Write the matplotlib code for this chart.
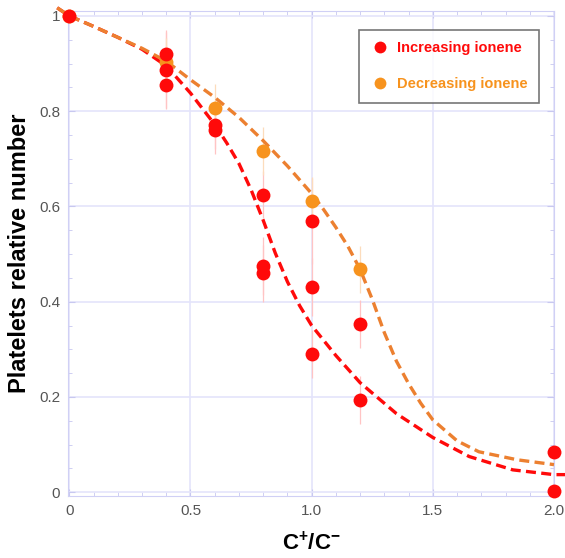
import numpy as np
import matplotlib.pyplot as plt
from matplotlib.ticker import MultipleLocator

plt.rcParams['font.family'] = ['Liberation Sans', 'DejaVu Sans']
plt.rcParams['mathtext.fontset'] = 'custom'
plt.rcParams['mathtext.rm'] = 'Liberation Sans:bold'
plt.rcParams['mathtext.default'] = 'rm'

# measured points
inc_x = [0.0, 0.4, 0.4, 0.4, 0.6, 0.6, 0.8, 0.8, 0.8, 1.0, 1.0, 1.0, 1.2, 1.2, 2.0, 2.0]
inc_y = [1.0, 0.92, 0.887, 0.855, 0.770, 0.761, 0.625, 0.475, 0.460, 0.570, 0.431, 0.290, 0.353, 0.194, 0.085, 0.002]
inc_err = [0.0, 0.05, 0.08, 0.05, 0.05, 0.05, 0.05, 0.06, 0.06, 0.09, 0.06, 0.05, 0.05, 0.05, 0.0, 0.0]

dec_x = [0.0, 0.4, 0.6, 0.8, 1.0, 1.2]
dec_y = [1.0, 0.904, 0.807, 0.716, 0.611, 0.468]
dec_err = [0.0, 0.05, 0.05, 0.05, 0.05, 0.05]

# fit curves
fit_inc_x = [-0.05, 0.0, 0.1, 0.2, 0.3, 0.4, 0.5, 0.6, 0.65, 0.7, 0.75, 0.8, 0.85, 0.9, 0.95,
             1.0, 1.1, 1.2, 1.35, 1.5, 1.65, 1.83, 2.0, 2.05]
fit_inc_y = [1.017, 1.0, 0.978, 0.955, 0.93, 0.895, 0.838, 0.772, 0.733, 0.69, 0.635, 0.571, 0.502,
             0.442, 0.392, 0.35, 0.287, 0.23, 0.165, 0.115, 0.075, 0.047, 0.037, 0.037]
fit_dec_x = [-0.05, 0.0, 0.1, 0.2, 0.3, 0.4, 0.5, 0.6, 0.7, 0.8, 0.9, 1.0, 1.05, 1.1, 1.15, 1.2,
             1.25, 1.3, 1.35, 1.4, 1.45, 1.5, 1.6, 1.69, 1.85, 2.0]
fit_dec_y = [1.017, 1.0, 0.978, 0.955, 0.932, 0.905, 0.866, 0.829, 0.787, 0.738, 0.685, 0.627, 0.593,
             0.556, 0.516, 0.468, 0.405, 0.335, 0.275, 0.228, 0.187, 0.152, 0.108, 0.085, 0.068, 0.058]

x_ticks = [0, 0.5, 1.0, 1.5, 2.0]
x_labels = ['0', '0.5', '1.0', '1.5', '2.0']
y_ticks = [0, 0.2, 0.4, 0.6, 0.8, 1.0]
y_labels = ['0', '0.2', '0.4', '0.6', '0.8', '1']

red = '#ff0a0a'
orange = '#f7931e'
grid_c = '#e4e4fb'

fig = plt.figure(figsize=(5.65, 5.58), dpi=100)
ax = fig.add_axes([0.121, 0.111, 0.8595, 0.869])

ax.plot(fit_inc_x, fit_inc_y, '--', color=red, lw=2.4, dashes=(3, 1.6), clip_on=False, zorder=3)
ax.plot(fit_dec_x, fit_dec_y, '--', color='#ec8030', lw=2.4, dashes=(3, 1.6), clip_on=False, zorder=3)

ax.errorbar(inc_x, inc_y, yerr=inc_err, fmt='none', ecolor='#ffc4c4', elinewidth=0.9, zorder=2)
ax.errorbar(dec_x, dec_y, yerr=dec_err, fmt='none', ecolor='#fcdcbc', elinewidth=0.9, zorder=2)
ax.plot(dec_x, dec_y, 'o', color=orange, ms=10, mec='none', clip_on=False, zorder=4,
        label='Decreasing ionene')
ax.plot(inc_x, inc_y, 'o', color=red, ms=10, mec='none', clip_on=False, zorder=5,
        label='Increasing ionene')

ax.set_xlim(-0.004, 2.0)
ax.set_ylim(-0.008, 1.01)
ax.set_xticks(x_ticks)
ax.set_xticklabels(x_labels)
ax.set_yticks(y_ticks)
ax.set_yticklabels(y_labels)
ax.xaxis.set_minor_locator(MultipleLocator(0.1))
ax.yaxis.set_minor_locator(MultipleLocator(0.05))
ax.grid(True, color=grid_c, lw=1.2)
ax.set_axisbelow(True)
ax.tick_params(which='both', direction='in', color='#c8c8f0', top=True, right=True)
ax.tick_params(which='major', length=5, labelsize=11, labelcolor='#555555', pad=6)
ax.tick_params(which='minor', length=3)
for s in ax.spines.values():
    s.set_color('#d0d0f5')

ax.set_xlabel('C$^{+}$/C$^{-}$', fontsize=16, fontweight='bold', labelpad=10)
ax.set_ylabel('Platelets relative number', fontsize=17, fontweight='bold', labelpad=6)

handles, labels = ax.get_legend_handles_labels()
leg = ax.legend(handles[::-1], labels[::-1], loc='upper right', bbox_to_anchor=(0.985, 0.977),
                prop={'weight': 'bold', 'size': 10.5}, fancybox=False, edgecolor='#555555',
                labelspacing=1.5, handletextpad=0.5, borderpad=0.8, handlelength=1.3,
                markerscale=0.85)
leg.get_frame().set_linewidth(1.2)
for txt, c in zip(leg.get_texts(), [red, orange]):
    txt.set_color(c)

fig.savefig('out.png', dpi=100)
